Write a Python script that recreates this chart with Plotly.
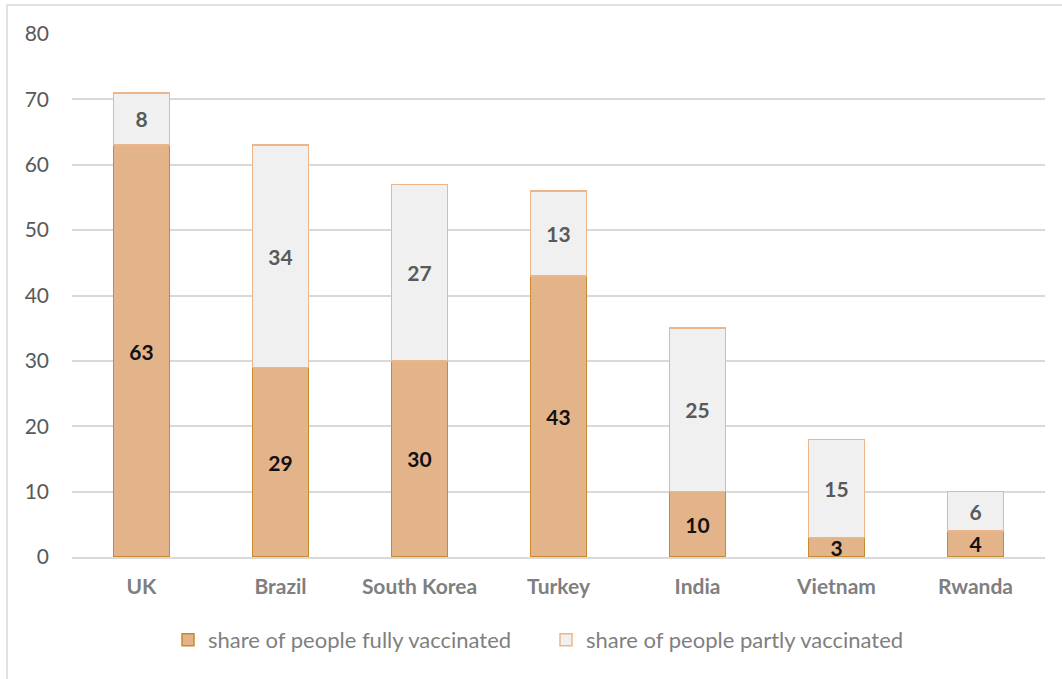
import plotly.graph_objects as go

countries = ["UK", "Brazil", "South Korea", "Turkey", "India", "Vietnam", "Rwanda"]
fully = [63, 29, 30, 43, 10, 3, 4]
partly = [8, 34, 27, 13, 25, 15, 6]
y_ticks = [0, 10, 20, 30, 40, 50, 60, 70, 80]

FONT = "Lato"
W, H = 1062, 679
L, R, T, B = 72, 17, 34, 122
pw, ph = W - L - R, H - T - B

fig = go.Figure()
fig.add_trace(go.Bar(
    x=countries, y=fully, name="share of people fully vaccinated",
    marker=dict(color="#E3B38A", line=dict(color="#C98A2E", width=1.5)),
    text=[str(v) for v in fully], textposition="inside", insidetextanchor="middle",
    textfont=dict(family=FONT, size=21, color="#111111", weight="bold"),
    textangle=0, constraintext="none",
))
fig.add_trace(go.Bar(
    x=countries, y=partly, name="share of people partly vaccinated",
    marker=dict(color="#F0F0F0", line=dict(color="#EDB58A", width=1.5)),
    text=[str(v) for v in partly], textposition="inside", insidetextanchor="middle",
    textfont=dict(family=FONT, size=21, color="#595959", weight="bold"),
    textangle=0, constraintext="none",
))

def px_x(p):
    return (p - L) / pw

def px_y(p):
    return (H - B - p) / ph

fig.update_layout(
    width=W, height=H,
    barmode="stack", bargap=0.6,
    margin=dict(l=L, r=R, t=T, b=B),
    plot_bgcolor="white", paper_bgcolor="white",
    font=dict(family=FONT, color="#595959"),
    xaxis=dict(
        tickfont=dict(family=FONT, size=21, color="#7F7F7F", weight="bold"),
        showgrid=False, showline=True, linecolor="#D9D9D9", linewidth=1.5,
        ticks="", ticklabelstandoff=10,
    ),
    yaxis=dict(
        range=[0, 80], tickvals=y_ticks, ticktext=[str(v) for v in y_ticks],
        tickfont=dict(family=FONT, size=21, color="#595959"),
        showgrid=True, gridcolor="#D9D9D9", gridwidth=1.5,
        zeroline=False, showline=False, ticks="", ticklabelstandoff=22,
    ),
    legend=dict(
        orientation="h", x=px_x(546), xanchor="center", y=px_y(640), yanchor="middle",
        font=dict(family=FONT, size=22, color="#7F7F7F"),
        itemwidth=30, traceorder="normal", entrywidth=333, entrywidthmode="pixels",
    ),
    shapes=[
        dict(type="rect", xref="paper", yref="paper",
             x0=px_x(7), x1=px_x(1075), y0=px_y(690), y1=px_y(5),
             line=dict(color="#D9D9D9", width=1.5), fillcolor="rgba(0,0,0,0)",
             layer="below"),
    ],
    showlegend=True,
)

fig.write_html("out.html")
